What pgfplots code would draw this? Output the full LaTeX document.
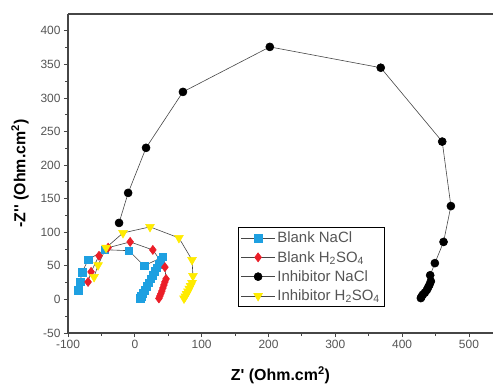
\documentclass[border=0pt]{standalone}
\usepackage{fontspec}
\setmainfont{Liberation Sans}
\usepackage{pgfplots}
\pgfplotsset{compat=1.18}
\definecolor{cblue}{RGB}{30,160,225}
\definecolor{cred}{RGB}{235,30,40}
\definecolor{cyel}{RGB}{255,235,0}
\definecolor{lgray}{RGB}{70,70,70}
\definecolor{tgray}{RGB}{85,85,85}
\begin{document}
\begin{tikzpicture}
\begin{axis}[
  scale only axis, width=425bp, height=319bp,
  xmin=-100, xmax=536, ymin=-50, ymax=425,
  axis x line*=bottom, axis y line*=left,
  axis line style={lgray, line width=1.1pt},
  xtick={-100,0,...,500}, minor xtick={-50,50,...,450},
  ytick={-50,0,...,400}, minor ytick={-25,25,...,375},
  tick align=outside, major tick length=4bp, minor tick length=2.5bp,
  every tick/.style={lgray, line width=0.8pt},
  /pgf/number format/assume math mode=true,
  ticklabel style={font=\fontsize{12}{12}\selectfont, text=tgray},
  xlabel={Z\textquotesingle\ (Ohm.cm\textsuperscript{2})},
  ylabel={-Z\textquotesingle\textquotesingle\ (Ohm.cm\textsuperscript{2})},
  xlabel style={font=\fontsize{16}{16}\selectfont\bfseries, at={(axis description cs:0.5,-0.132)}, anchor=center},
  ylabel style={font=\fontsize{16}{16}\selectfont\bfseries, at={(axis description cs:-0.113,0.5)}, anchor=center},
  legend style={at={(0.4,0.332)}, anchor=north west, draw=black, line width=0.6pt,
    font=\fontsize{15}{17}\selectfont, text=tgray, row sep=3bp, inner sep=2.5bp},
  legend cell align=left,
  legend image code/.code={\draw[mark repeat=2,mark phase=2,#1] plot coordinates {(0cm,0cm) (0.6cm,0cm) (1.2cm,0cm)};},
]
\draw[lgray, line width=1.3pt] (rel axis cs:0,1) -- (rel axis cs:1,1);
% Blank NaCl
\addplot[color=lgray, line width=0.6pt, mark=square*, mark size=3.8bp, mark options={draw=cblue, fill=cblue}] coordinates {
(-85,14) (-82,26) (-79,40) (-70,59) (-45,74) (-9,72.6) (14,50) (42,63.5)
(39,58) (36,52.5) (33,47) (30,41.5) (27,36) (24,30.5) (21,25) (18,19.5) (15,14) (12,9) (10,5) (8,1.5)
};
\addlegendentry{Blank NaCl}
% Blank H2SO4
\addplot[color=lgray, line width=0.6pt, mark=diamond*, mark size=4.5bp, mark options={draw=cred, fill=cred}] coordinates {
(-70,26) (-65.5,41) (-53.6,65) (-40,77) (-7,85.6) (27,73.7) (45,48) (46.7,30.5)
(45,26) (43.5,21.5) (42,17) (40.5,12.5) (39,8.5) (37.5,5) (36,1.5)
};
\addlegendentry{Blank H\textsubscript{2}SO\textsubscript{4}}
% Inhibitor NaCl
\addplot[color=lgray, line width=0.6pt, mark=*, mark size=4bp, mark options={draw=black, fill=black}] coordinates {
(-23.6,113.9) (-10,158.6) (16.8,225.7) (72,309) (202,376) (368,345) (460,235) (473,139)
(462,85.6) (449,54) (442,36) (443,27) (441,22) (439,18) (437,14) (434,10) (431,7) (429,4) (428,2)
};
\addlegendentry{Inhibitor NaCl}
% Inhibitor H2SO4
\addplot[color=lgray, line width=0.6pt, mark=triangle*, mark size=5bp, mark options={draw=cyel, fill=cyel, rotate=180}] coordinates {
(-61,33.5) (-55,51) (-43,77) (-17.7,99) (22.7,108) (66,91.6) (85.6,58.8) (87,35)
(85.6,24.5) (83.5,20) (81.5,16) (79.5,12) (77.5,8) (75.5,4.5) (73.6,1.5)
};
\addlegendentry{Inhibitor H\textsubscript{2}SO\textsubscript{4}}
\end{axis}
\pgfresetboundingbox
\path ([xshift=-68bp,yshift=-55bp]current axis.south west) rectangle ([yshift=14bp]current axis.north east);
\end{tikzpicture}
\end{document}
